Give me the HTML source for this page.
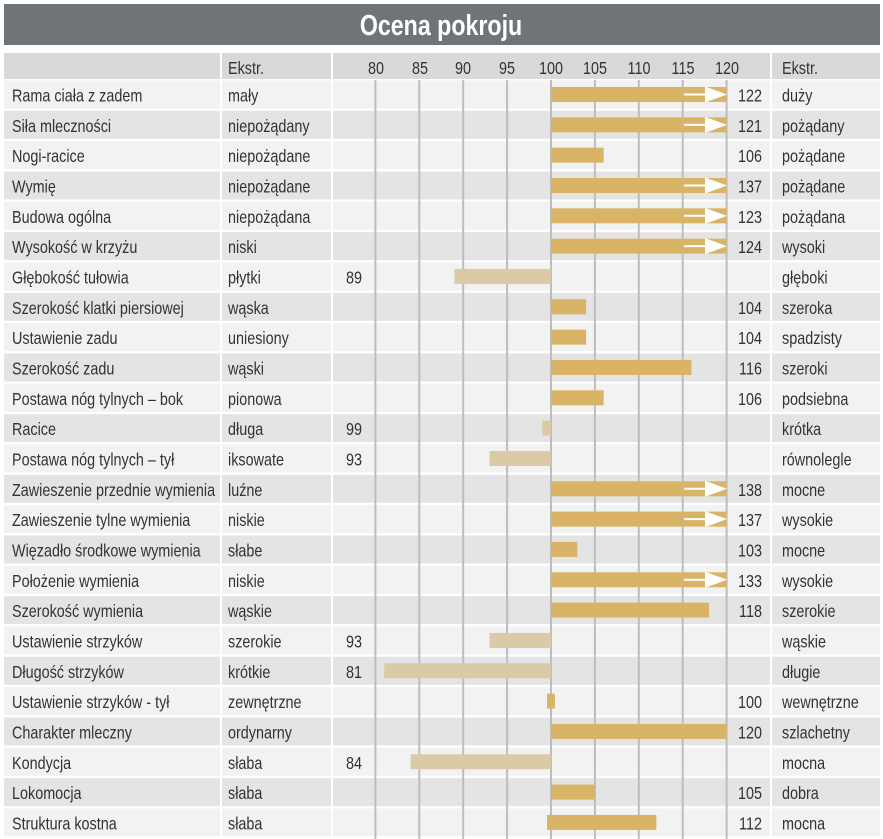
<!DOCTYPE html>
<html><head><meta charset="utf-8"><style>
html,body{margin:0;padding:0;background:#fff;}
svg{display:block;font-family:"Liberation Sans",sans-serif;}
</style></head><body>
<svg width="883" height="839" viewBox="0 0 883 839" xmlns="http://www.w3.org/2000/svg">
<rect x="4" y="4" width="876" height="41" fill="#6f7476"/>
<g transform="translate(441,35) scale(0.8,1)"><text x="0" y="0" text-anchor="middle" font-size="29" font-weight="bold" fill="#fff">Ocena pokroju</text></g>
<rect x="4" y="53" width="876" height="26" fill="#d9d9db"/>
<g id="rows"></g>
<g font-size="18" fill="#333">
<g transform="translate(228,74) scale(0.8,1)"><text>Ekstr.</text></g>
<g transform="translate(782,74) scale(0.8,1)"><text>Ekstr.</text></g>
<g transform="translate(376,74) scale(0.8,1)"><text text-anchor="middle">80</text></g>
<g transform="translate(420,74) scale(0.8,1)"><text text-anchor="middle">85</text></g>
<g transform="translate(463,74) scale(0.8,1)"><text text-anchor="middle">90</text></g>
<g transform="translate(507,74) scale(0.8,1)"><text text-anchor="middle">95</text></g>
<g transform="translate(551,74) scale(0.8,1)"><text text-anchor="middle">100</text></g>
<g transform="translate(595,74) scale(0.8,1)"><text text-anchor="middle">105</text></g>
<g transform="translate(639,74) scale(0.8,1)"><text text-anchor="middle">110</text></g>
<g transform="translate(683,74) scale(0.8,1)"><text text-anchor="middle">115</text></g>
<g transform="translate(727,74) scale(0.8,1)"><text text-anchor="middle">120</text></g>
</g>
<script>
</script>
</svg>
<script>
(function(){
var data=[
["Rama ciała z zadem","mały",122,"duży"],
["Siła mleczności","niepożądany",121,"pożądany"],
["Nogi-racice","niepożądane",106,"pożądane"],
["Wymię","niepożądane",137,"pożądane"],
["Budowa ogólna","niepożądana",123,"pożądana"],
["Wysokość w krzyżu","niski",124,"wysoki"],
["Głębokość tułowia","płytki",89,"głęboki"],
["Szerokość klatki piersiowej","wąska",104,"szeroka"],
["Ustawienie zadu","uniesiony",104,"spadzisty"],
["Szerokość zadu","wąski",116,"szeroki"],
["Postawa nóg tylnych –  bok","pionowa",106,"podsiebna"],
["Racice","długa",99,"krótka"],
["Postawa nóg tylnych –  tył","iksowate",93,"równolegle"],
["Zawieszenie przednie wymienia","luźne",138,"mocne"],
["Zawieszenie tylne wymienia","niskie",137,"wysokie"],
["Więzadło środkowe wymienia","słabe",103,"mocne"],
["Położenie wymienia","niskie",133,"wysokie"],
["Szerokość wymienia","wąskie",118,"szerokie"],
["Ustawienie strzyków","szerokie",93,"wąskie"],
["Długość strzyków","krótkie",81,"długie"],
["Ustawienie strzyków - tył","zewnętrzne",100,"wewnętrzne"],
["Charakter mleczny","ordynarny",120,"szlachetny"],
["Kondycja","słaba",84,"mocna"],
["Lokomocja","słaba",105,"dobra"],
["Struktura kostna","słaba",112,"mocna"]];
function X(v){return 551+(v-100)*8.78;}
function esc(s){return s.replace(/&/g,"&amp;").replace(/</g,"&lt;");}
var h="";
for(var i=0;i<25;i++){var t=80.5+i*30.33;h+='<rect x="4" y="'+t+'" width="876" height="28" fill="'+(i%2?'#e4e4e5':'#f2f2f2')+'"/>';}
h+='<rect x="220" y="53" width="2" height="786" fill="#fff"/><rect x="331" y="53" width="2" height="786" fill="#fff"/><rect x="770" y="53" width="2" height="786" fill="#fff"/>';
for(var v=80;v<=120;v+=5){h+='<rect x="'+(X(v)-1)+'" y="80" width="2" height="759" fill="#bdbdbd"/>';}
for(var i=0;i<25;i++){var d=data[i],t=80.5+i*30.33,by=t+6.5,val=d[2];
 if(val<100){h+='<rect x="'+X(val)+'" y="'+by+'" width="'+(551-X(val))+'" height="15" fill="#dacaa8"/>';
  h+='<g transform="translate(362,'+(t+21)+') scale(0.8,1)"><text text-anchor="end">'+val+'</text></g>';}
 else{var e=Math.min(val,120),x0=551;if(val<=100){x0=547;e=100.45;}else if(i==24){x0=547;}
  h+='<rect x="'+x0+'" y="'+by+'" width="'+(X(e)-x0)+'" height="15" fill="#d9b466"/>';
  if(val>120){var m=by+7.5;h+='<rect x="684" y="'+(m-1)+'" width="22" height="2" fill="#fff"/><polygon points="705,'+(by-0.5)+' 705,'+(by+15.5)+' 727,'+m+'" fill="#fff"/>';}
  h+='<g transform="translate(762,'+(t+21)+') scale(0.8,1)"><text text-anchor="end">'+val+'</text></g>';}
 h+='<g transform="translate(12,'+(t+21)+') scale(0.8,1)"><text>'+esc(d[0])+'</text></g>';
 h+='<g transform="translate(228,'+(t+21)+') scale(0.8,1)"><text>'+esc(d[1])+'</text></g>';
 h+='<g transform="translate(782,'+(t+21)+') scale(0.8,1)"><text>'+esc(d[3])+'</text></g>';}
var g=document.getElementById("rows");
g.setAttribute("font-size","18");g.setAttribute("fill","#333");
g.innerHTML=h;
})();
</script>
</body></html>
